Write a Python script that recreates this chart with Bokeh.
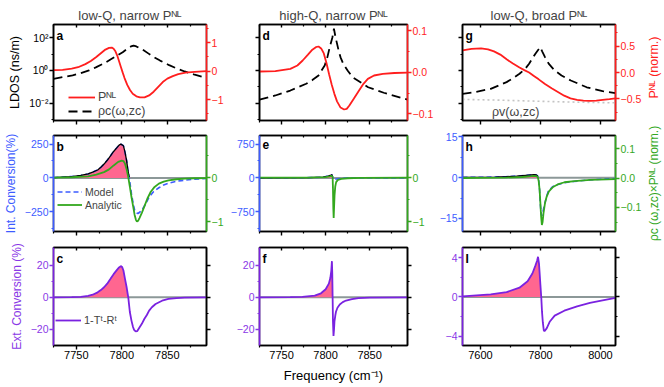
import math
import numpy as np
from bokeh.plotting import figure
from bokeh.layouts import gridplot, row
from bokeh.models import (Range1d, LinearAxis, FixedTicker, LinearScale, Span,
                          Label, Legend, LegendItem)
from bokeh.embed import file_html
from bokeh.resources import INLINE

FONT = "Liberation Sans"

# ---------------------------------------------------------------- data
titles = ["low-Q, narrow Pᴺᴸ", "high-Q, narrow Pᴺᴸ", "low-Q, broad Pᴺᴸ"]
letters = [["a", "d", "g"], ["b", "e", "h"], ["c", "f", "I"]]

narrow_xlim = (7725, 7893)
broad_xlim = (7540, 8050)
narrow_xticks = [7750, 7800, 7850]
narrow_xminor = [7725, 7775, 7825, 7875]
broad_xticks = [7600, 7800, 8000]
broad_xminor = [7700, 7900]

# row 1: P^NL (norm.) and LDOS rho_c (ns/m)
a_pnl_x = [7725, 7735, 7745, 7752, 7760, 7766, 7772, 7777, 7782, 7786, 7789, 7791, 7793, 7795, 7797,
           7799, 7801, 7803, 7806, 7809, 7812, 7816, 7820, 7825, 7830, 7835, 7840, 7845, 7850, 7856,
           7862, 7870, 7880, 7893]
a_pnl = [0.04, 0.05, 0.09, 0.14, 0.25, 0.36, 0.50, 0.63, 0.76, 0.82, 0.83, 0.79, 0.70, 0.55, 0.35,
         0.15, -0.05, -0.24, -0.48, -0.66, -0.79, -0.88, -0.92, -0.92, -0.85, -0.72, -0.55, -0.38,
         -0.26, -0.17, -0.10, -0.05, -0.02, 0.0]
a_rho_x = [7725, 7735, 7746, 7755, 7764, 7772, 7781, 7788, 7795, 7801, 7806, 7810, 7813, 7816, 7820,
           7824, 7829, 7834, 7842, 7852, 7860, 7869, 7880, 7893]
a_rho = [0.31, 0.39, 0.50, 0.69, 1.0, 1.6, 2.8, 4.8, 8.1, 13, 21, 29, 33, 29, 22, 17, 11, 7.1, 4.0,
         2.1, 1.35, 0.87, 0.55, 0.35]

d_pnl_x = [7725, 7743, 7760, 7768, 7774, 7780, 7785, 7789, 7792, 7795, 7798, 7801, 7804, 7807, 7810,
           7813, 7817, 7821, 7824, 7827, 7832, 7838, 7843, 7848, 7855, 7865, 7878, 7893]
d_pnl = [0.0016, 0.0024, 0.008, 0.016, 0.028, 0.042, 0.054, 0.060, 0.0616, 0.057, 0.045, 0.022,
         -0.005, -0.030, -0.052, -0.070, -0.085, -0.0896, -0.088, -0.080, -0.064, -0.044, -0.028,
         -0.016, -0.008, -0.004, -0.002, -0.001]
d_rho_x = [7725, 7743, 7760, 7778, 7785, 7792, 7799, 7802, 7804.3, 7807.8, 7809.5, 7811.3, 7814.8,
           7817, 7820, 7825, 7830.6, 7848.3, 7866, 7893]
d_rho = [0.017, 0.030, 0.060, 0.155, 0.26, 0.50, 2.0, 6.3, 21, 107, 347, 107, 16.6, 6.3, 2.6, 1.0,
         0.39, 0.095, 0.044, 0.017]

g_pnl_x = [7540, 7570, 7602, 7625, 7645, 7666, 7687, 7708, 7730, 7746, 7762, 7778, 7794, 7815, 7837,
           7858, 7879, 7900, 7922, 7943, 7965, 7986, 8007, 8030, 8050]
g_pnl = [0.42, 0.45, 0.456, 0.44, 0.40, 0.34, 0.25, 0.17, 0.095, 0.045, 0.0, -0.065, -0.13, -0.22,
         -0.30, -0.37, -0.44, -0.49, -0.52, -0.535, -0.54, -0.535, -0.52, -0.505, -0.49]
g_rho_x = [7540, 7580, 7634, 7687, 7710, 7730, 7750, 7762, 7783, 7792, 7799, 7806, 7815, 7828, 7847,
           7870, 7901, 7954, 8007, 8050]
g_rho = [0.038, 0.048, 0.076, 0.195, 0.355, 0.63, 1.32, 2.57, 10.5, 17.8, 26.3, 14.1, 6.5, 2.5, 1.0,
         0.50, 0.245, 0.095, 0.055, 0.042]
g_rhov_x = [7540, 7650, 7750, 7850, 7950, 8050]
g_rhov = [0.0174, 0.0158, 0.0141, 0.0126, 0.0115, 0.0107]

# row 2: internal conversion (%) model, and analytic rho_c x P^NL (norm.)
b_x = [7725, 7745, 7755, 7763, 7768, 7773.5, 7777, 7780.5, 7784, 7787.6, 7791, 7794.7, 7797, 7799,
       7801.8, 7803.5, 7805.3, 7806.5, 7808.1, 7810.6, 7812.5, 7814.1, 7816, 7817.7, 7820, 7823,
       7826, 7830, 7835, 7840.7, 7846, 7851.3, 7858, 7865.4, 7879.6, 7893]
b_model = [2, 10, 18, 29, 42, 58, 78, 102, 130, 163, 195, 224, 242, 249, 237, 190, 127, 65, 5, -117,
           -190, -239, -258, -263, -252, -227, -195, -141, -100, -73, -52, -39, -28, -20, -10, -5]
b_an_x = [7725, 7745, 7763, 7772, 7780.5, 7786, 7791.1, 7796, 7800, 7801.8, 7803.5, 7805.3, 7807.1,
          7808.8, 7810.6, 7812.5, 7814.1, 7815.5, 7816.6, 7818, 7819.4, 7822, 7824.7, 7828, 7831.8,
          7836, 7840.7, 7846, 7851.3, 7860, 7869, 7880, 7893]
b_an = [0, 0.01, 0.03, 0.07, 0.128, 0.19, 0.28, 0.36, 0.39, 0.38, 0.32, 0.19, 0.015, -0.2, -0.44,
        -0.66, -0.85, -0.96, -1.0, -0.98, -0.92, -0.80, -0.66, -0.48, -0.32, -0.21, -0.135, -0.09,
        -0.06, -0.035, -0.02, -0.012, -0.01]

e_x = [7725, 7780, 7797, 7803, 7806, 7807.2, 7808, 7809, 7810, 7811.5, 7814, 7820, 7835, 7860, 7893]
e_model = [0, 5, 15, 40, 60, 70, 20, -40, -45, -30, -18, -8, -3, -1, 0]
e_an_x = [7725, 7780, 7800, 7805, 7807, 7808, 7808.4, 7808.8, 7809.2, 7809.6, 7810.2, 7811, 7812,
          7814, 7818, 7825, 7840, 7893]
e_an = [0, 0.004, 0.015, 0.03, 0.045, 0.02, -0.25, -0.7, -0.92, -0.7, -0.4, -0.2, -0.1, -0.05,
        -0.025, -0.012, -0.005, 0]

h_x = [7540, 7600, 7650, 7687, 7720, 7751, 7770, 7778, 7786, 7791, 7794, 7797, 7799.3, 7802, 7804.6,
       7808, 7813.2, 7820, 7826, 7840, 7858, 7880, 7910, 7964, 8050]
h_model = [0.1, 0.15, 0.25, 0.4, 0.6, 0.9, 1.05, 1.1, 1.0, 0.6, -1.0, -4.5, -9.5, -13, -14, -12.5,
           -10, -7, -5, -3.3, -2.5, -1.8, -1.4, -0.8, -0.3]
h_an_x = [7540, 7600, 7687, 7740, 7770, 7778, 7786, 7791, 7794, 7797, 7799.3, 7802, 7804.6, 7807,
          7810, 7815, 7820, 7828, 7842, 7860, 7880, 7913, 7966, 8050]
h_an = [0.0005, 0.001, 0.002, 0.004, 0.007, 0.008, 0.007, 0.004, -0.01, -0.04, -0.08, -0.13, -0.16,
        -0.15, -0.12, -0.085, -0.065, -0.045, -0.03, -0.02, -0.014, -0.01, -0.006, -0.003]

# row 3: external conversion 1-T^t-R^t (%)
c_x = [7725, 7745, 7755, 7763, 7768, 7773.5, 7777, 7780.5, 7784, 7787.6, 7791, 7794.7, 7797, 7798.9,
       7800.3, 7801.8, 7803.5, 7805.3, 7806.2, 7807.1, 7808.8, 7810.6, 7812.3, 7813.5, 7815.2, 7817,
       7819.4, 7822, 7824.7, 7827.5, 7830, 7833, 7837.1, 7844.2, 7851.3, 7860, 7869, 7893]
c_ext = [0, 0.05, 0.3, 0.9, 1.6, 3.1, 4.5, 6.25, 8.5, 11.5, 14.4, 17.1, 18.6, 19.4, 18.9, 16.7, 11.5,
         6.25, 3, 0, -9, -14.5, -18.5, -20.3, -21.25, -21.0, -18.75, -16.5, -13.5, -11, -8.3, -6.2,
         -4.2, -2.1, -1.0, -0.5, -0.2, 0]
f_x = [7725, 7760, 7773.6, 7787.7, 7794.8, 7800.1, 7803.7, 7805.4, 7806.5, 7807.2, 7807.6, 7808.0,
       7808.4, 7809.0, 7809.6, 7810.1, 7811.0, 7811.8, 7813.5, 7816.1, 7819.5, 7823.2, 7830, 7837.3,
       7850, 7893]
f_ext = [0, 0.1, 0.3, 1.0, 2.5, 5, 8.5, 12, 16.5, 22.5, 15, 0, -15, -24, -20, -15, -11.5, -9, -6.5,
         -4.5, -3, -2, -1.2, -0.5, -0.2, 0]
i_x = [7540, 7634, 7687, 7730, 7757, 7773, 7783, 7788.6, 7791.8, 7795, 7797, 7799.8, 7802.5, 7805,
       7807.8, 7811, 7813.2, 7820.6, 7831.3, 7847.3, 7879.3, 7922, 7964.7, 8007, 8050]
i_ext = [0.07, 0.27, 0.5, 0.95, 1.6, 2.4, 3.2, 3.7, 4.1, 3.4, 2.5, 1.2, 0, -1.5, -2.6, -3.4, -3.5,
         -3.2, -2.5, -1.9, -1.4, -0.95, -0.6, -0.35, -0.1]

# ---------------------------------------------------------------- style
RED = "#ff1e1e"
BLUE = "#3d5cff"
GREEN = "#33a81e"
PURPLE = "#7a22e0"
PURPLE_T = "#8a38e6"
PINK = "#ff6690"
ZERO = "#8c9898"

COL_W = [227, 209, 208]
COL_BL = [47, 26, 25]
COL_BR = [21, 24, 24]
ROW_H = [127, 112, 147]
ROW_BT = [24, 8, 8]
ROW_BB = [7, 8, 41]
ROW_FH = [96, 96, 98]
STRIP_W = 19


def base_fig(r, c, xr, yr, ylog=False, title=None):
    p = figure(width=COL_W[c], height=ROW_H[r], x_range=Range1d(*xr), y_range=Range1d(*yr),
               y_axis_type="log" if ylog else "linear", output_backend="svg",
               toolbar_location=None, min_border_left=COL_BL[c], min_border_right=COL_BR[c],
               min_border_top=ROW_BT[r], min_border_bottom=ROW_BB[r], title=title)
    p.xgrid.visible = False
    p.ygrid.visible = False
    p.outline_line_color = "black"
    p.outline_line_width = 1.5
    if title:
        p.title.text_font = FONT
        p.title.text_font_size = "13px"
        p.title.text_font_style = "normal"
        p.title.align = "center"
        p.title.standoff = 3
        p.title.offset = 0
    return p


def style_axis(ax, ticks, minor, color="black", labels=True, size="10.5px", tin=0, tout=4,
               overrides=None, standoff=1):
    ax.ticker = FixedTicker(ticks=ticks, minor_ticks=minor)
    ax.axis_line_color = color
    ax.axis_line_width = 1.6
    ax.major_tick_line_color = color
    ax.minor_tick_line_color = color
    ax.major_tick_line_width = 1.4
    ax.minor_tick_line_width = 1.2
    ax.major_tick_in = tin
    ax.major_tick_out = tout
    ax.minor_tick_in = 2 if tin else 0
    ax.minor_tick_out = 2 if tout else 0
    ax.major_label_text_font = FONT
    if labels:
        ax.major_label_text_color = color
        ax.major_label_text_font_size = size
        ax.major_label_standoff = standoff
    else:
        ax.major_label_text_color = None
        ax.major_label_text_font_size = "1px"
        ax.major_label_standoff = 0
    if overrides:
        ax.major_label_overrides = overrides


def axis_title(ax, text, color, size, standoff=2):
    ax.axis_label = text
    ax.axis_label_text_font = FONT
    ax.axis_label_text_font_size = size
    ax.axis_label_text_font_style = "normal"
    ax.axis_label_text_color = color
    ax.axis_label_standoff = standoff


def add_text(p, x, y, text, size, color="black", bold=False, align="left", baseline="middle",
             angle=0.0):
    p.add_layout(Label(x=x, y=y, x_units="screen", y_units="screen", text=text,
                       text_font=FONT, text_font_size=size, text_color=color,
                       text_font_style="bold" if bold else "normal", angle=angle,
                       text_align=align, text_baseline=baseline))


def add_legend(p, items, loc, size, gw, h):
    lg = Legend(items=[LegendItem(label=t, renderers=[r]) for t, r in items], location=loc,
                orientation="vertical", label_text_font=FONT, label_text_font_size=size,
                glyph_width=gw, glyph_height=h, label_height=h, label_standoff=3, spacing=0,
                padding=0, margin=0, border_line_alpha=0, background_fill_alpha=0)
    p.add_layout(lg)


def x_axes(p, c, r):
    ticks, minor = (narrow_xticks, narrow_xminor) if c < 2 else (broad_xticks, broad_xminor)
    style_axis(p.below[0], ticks, minor, labels=(r == 2), size="11px", standoff=1)
    top = LinearAxis()
    style_axis(top, ticks, minor, labels=False, tin=3, tout=0)
    p.add_layout(top, "above")


def positive_part(x, y):
    y = np.asarray(y, dtype=float)
    return np.asarray(x, dtype=float), np.clip(y, 0, None)


def leading_positive(x, y):
    y = np.asarray(y, dtype=float)
    n = int(np.argmax(y < 0))
    return list(x[:n]), list(y[:n])


# ---------------------------------------------------------------- row 1
row1_data = [(narrow_xlim, a_pnl_x, a_pnl, a_rho_x, a_rho, (-1.73, 1.64), [-1, 0, 1],
              [-1.5, -0.5, 0.5, 1.5], None),
             (narrow_xlim, d_pnl_x, d_pnl, d_rho_x, d_rho, (-0.116, 0.1144), [-0.1, 0, 0.1],
              [-0.05, 0.05], {0: "0.0"}),
             (broad_xlim, g_pnl_x, g_pnl, g_rho_x, g_rho, (-0.911, 0.911), [-0.5, 0, 0.5],
              [-0.75, -0.25, 0.25, 0.75], {0: "0.0"})]
row1 = []
for c, (xl, px, py, rx, ry, rr, rt, rm, ov) in enumerate(row1_data):
    p = base_fig(0, c, xl, (9e-4, 630), ylog=True, title=titles[c])
    p.extra_y_ranges = {"r": Range1d(*rr)}
    p.extra_y_scales = {"r": LinearScale()}
    x_axes(p, c, 0)
    style_axis(p.left[0], [0.01, 1, 100], [0.001, 0.1, 10], labels=(c == 0), size="10.5px",
               overrides={0.01: "10⁻²", 1: "10⁰", 100: "10²"})
    rax = LinearAxis(y_range_name="r")
    style_axis(rax, rt, rm, color=RED, overrides=ov)
    p.add_layout(rax, "right")
    if c == 0:
        axis_title(p.left[0], "LDOS (ns/m)", "black", "12.5px", standoff=4)
    if c == 2:
        p.line(g_rhov_x, g_rhov, line_color="#c4c4c4", line_width=1.6, line_dash="2 3")
    r_rho = p.line(rx, ry, line_color="black", line_width=1.8, line_dash="9 5")
    r_p = p.line(px, py, line_color=RED, line_width=1.8, y_range_name="r")
    if c == 0:
        add_legend(p, [("Pᴺᴸ", r_p), ("ρc(ω,zc)", r_rho)], (15, 2), "12.5px", 27, 14)
    if c == 2:
        r_vl = p.line([], [], line_color="#8a9494", line_width=1.8, line_dash="2 2")
        add_legend(p, [("ρv(ω,zc)", r_vl)], (1, 1), "12.5px", 26, 14)
    add_text(p, 3, ROW_FH[0] - 4, letters[0][c], "12px", bold=True, baseline="top")
    row1.append(p)

# ---------------------------------------------------------------- row 2
row2_data = [(narrow_xlim, b_x, b_model, b_an_x, b_an, (-396, 313), [-250, 0, 250],
              [-375, -125, 125], (-1.226, 0.962), [-1, 0], [-0.5, 0.5], None),
             (narrow_xlim, e_x, e_model, e_an_x, e_an, (-1189, 940), [-750, 0, 750],
              [-1125, -375, 375], (-1.226, 0.962), [-1, 0], [-0.5, 0.5], None),
             (broad_xlim, h_x, h_model, h_an_x, h_an, (-19.8, 15.55), [-15, 0, 15],
              [-7.5, 7.5], (-0.1825, 0.146), [-0.1, 0, 0.1], [-0.15, -0.05, 0.05], {0: "0.0"})]
row2 = []
for c, (xl, mx, my, ax_, ay, yr, yt, ym, gr, gt, gm, ov) in enumerate(row2_data):
    p = base_fig(1, c, xl, yr)
    p.extra_y_ranges = {"g": Range1d(*gr)}
    p.extra_y_scales = {"g": LinearScale()}
    x_axes(p, c, 1)
    style_axis(p.left[0], yt, ym, color=BLUE)
    gax = LinearAxis(y_range_name="g")
    style_axis(gax, gt, gm, color=GREEN, overrides=ov)
    p.add_layout(gax, "right")
    if c == 0:
        axis_title(p.left[0], "Int. Conversion(%)", BLUE, "12px", standoff=4)
    p.add_layout(Span(location=0, dimension="width", line_color=ZERO, line_width=2,
                      level="underlay"))
    fx, fy = positive_part(mx, my)
    p.varea(x=fx, y1=np.zeros_like(fy), y2=fy, fill_color=PINK)
    r_m = p.line(mx, my, line_color=BLUE, line_width=1.6, line_dash="5 3")
    kx, ky = leading_positive(np.asarray(mx, dtype=float), my)
    p.line(kx, ky, line_color="black", line_width=1.3)
    r_a = p.line(ax_, ay, line_color=GREEN, line_width=1.8, y_range_name="g")
    if c == 0:
        add_legend(p, [("Model", r_m), ("Analytic", r_a)], (4, 20), "10.5px", 25, 13)
    add_text(p, 3, ROW_FH[1] - 4, letters[1][c], "12px", bold=True, baseline="top")
    row2.append(p)

# ---------------------------------------------------------------- row 3
row3_data = [(narrow_xlim, c_x, c_ext, (-30, 31), [-20, 0, 20], [-10, 10]),
             (narrow_xlim, f_x, f_ext, (-30, 31), [-20, 0, 20], [-10, 10]),
             (broad_xlim, i_x, i_ext, (-4.95, 5.05), [-4, 0, 4], [-2, 2])]
row3 = []
for c, (xl, ex, ey, yr, yt, ym) in enumerate(row3_data):
    p = base_fig(2, c, xl, yr)
    x_axes(p, c, 2)
    style_axis(p.left[0], yt, ym, color=PURPLE_T)
    p.left[0].axis_line_color = PURPLE
    rax = LinearAxis()
    style_axis(rax, yt, ym, labels=False)
    p.add_layout(rax, "right")
    if c == 0:
        axis_title(p.left[0], "Ext. Conversion (%)", PURPLE_T, "12px", standoff=4)
    if c == 1:
        axis_title(p.below[0], "Frequency (cm⁻¹)", "black", "13px", standoff=6)
    p.add_layout(Span(location=0, dimension="width", line_color=ZERO, line_width=2,
                      level="underlay"))
    fx, fy = positive_part(ex, ey)
    p.varea(x=fx, y1=np.zeros_like(fy), y2=fy, fill_color=PINK)
    r_e = p.line(ex, ey, line_color=PURPLE, line_width=1.8)
    if c == 0:
        add_legend(p, [("1-Tᵗ-Rᵗ", r_e)], (2, 18), "11px", 26, 14)
    add_text(p, 3, ROW_FH[2] - 4, letters[2][c], "12px", bold=True, baseline="top")
    row3.append(p)

# ---------------------------------------------------------------- right-hand axis titles
strip_h = sum(ROW_H)
strip = figure(width=STRIP_W, height=strip_h, x_range=Range1d(0, 1), y_range=Range1d(0, 1),
               output_backend="svg", toolbar_location=None, min_border=0,
               x_axis_location=None, y_axis_location=None)
strip.outline_line_color = None
strip.xgrid.visible = False
strip.ygrid.visible = False
add_text(strip, STRIP_W / 2, strip_h - 67, "Pᴺᴸ (norm.)", "12.5px", color=RED,
         align="center", angle=math.pi / 2)
add_text(strip, STRIP_W / 2, strip_h - 183, "ρc (ω,zc)×Pᴺᴸ (norm.)", "12px", color=GREEN,
         align="center", angle=math.pi / 2)

grid = gridplot([row1, row2, row3], toolbar_location=None)
layout = row(grid, strip)
open("out.html", "w").write(file_html(layout, INLINE))
